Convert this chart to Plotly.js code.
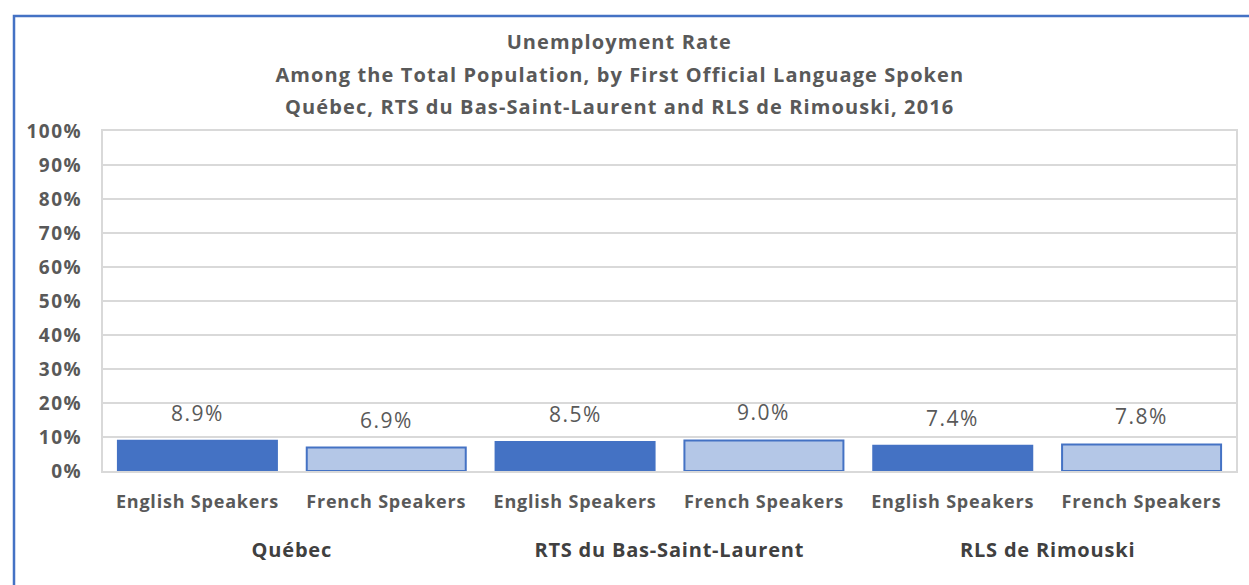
<!DOCTYPE html>
<html>
<head>
<meta charset="utf-8">
<script src="https://cdn.plot.ly/plotly-3.0.1.min.js"></script>
<style>
html,body{margin:0;padding:0;background:#fff;}
#chart{width:1249px;height:585px;}
#chart .xtick text{letter-spacing:0.8px;}
#chart .ytick text{letter-spacing:1.5px;}
#chart g.annotation[data-index="0"] text,
#chart g.annotation[data-index="1"] text,
#chart g.annotation[data-index="2"] text,
#chart g.annotation[data-index="3"] text,
#chart g.annotation[data-index="4"] text,
#chart g.annotation[data-index="5"] text{letter-spacing:1.5px;}
#chart g.annotation[data-index="6"] text,
#chart g.annotation[data-index="7"] text,
#chart g.annotation[data-index="8"] text{letter-spacing:0.8px;}
#chart g.annotation[data-index="9"] text,
#chart g.annotation[data-index="10"] text,
#chart g.annotation[data-index="11"] text{letter-spacing:1.1px;}
</style>
</head>
<body>
<div id="chart"></div>
<script>
const titleLines = ["Unemployment Rate", "Among the Total Population, by First Official Language Spoken", "Québec, RTS du Bas-Saint-Laurent and RLS de Rimouski, 2016"];
const groups = ["Québec", "Québec", "RTS du Bas-Saint-Laurent", "RTS du Bas-Saint-Laurent", "RLS de Rimouski", "RLS de Rimouski"];
const subgroups = ["English Speakers", "French Speakers", "English Speakers", "French Speakers", "English Speakers", "French Speakers"];
const values = [0.089, 0.069, 0.085, 0.090, 0.074, 0.078];
const groupNames = ["Québec", "RTS du Bas-Saint-Laurent", "RLS de Rimouski"];

const FONT = "'Open Sans', 'Noto Sans', sans-serif";
const GRAY = "#595959";
const fillColors = {"English Speakers": "#4472C4", "French Speakers": "#B4C7E7"};
const lineColors = {"English Speakers": "#4472C4", "French Speakers": "#4472C4"};

const ids = groups.map((g, i) => g + " | " + subgroups[i]);

const trace = {
  type: "bar",
  x: ids,
  y: values,
  marker: {
    color: subgroups.map(s => fillColors[s]),
    line: {color: subgroups.map(s => lineColors[s]), width: 2}
  },
  hoverinfo: "x+y",
  showlegend: false
};

const annotations = [];
// value labels (indices 0-5)
values.forEach((v, i) => {
  annotations.push({
    x: ids[i], y: v, xref: "x", yref: "y",
    text: (v * 100).toFixed(1) + "%",
    showarrow: false, yanchor: "middle", yshift: 28,
    font: {family: FONT, size: 21, color: GRAY}
  });
});
// group labels (indices 6-8)
groupNames.forEach(g => {
  const idx = groups.map((x, i) => x === g ? i : -1).filter(i => i >= 0);
  const mid = (idx[0] + idx[idx.length - 1]) / 2;
  annotations.push({
    x: mid, y: -0.232, xref: "x", yref: "paper",
    text: "<b>" + g + "</b>",
    showarrow: false, yanchor: "middle",
    font: {family: FONT, size: 20, color: "#404040"}
  });
});
// title lines (indices 9-11)
const titleY = [1.2618, 1.1676, 1.0735];
titleLines.forEach((t, i) => {
  annotations.push({
    x: 0.4563, y: titleY[i], xref: "paper", yref: "paper",
    text: "<b>" + t + "</b>",
    showarrow: false, yanchor: "middle", xanchor: "center",
    font: {family: FONT, size: 20, color: GRAY}
  });
});

const layout = {
  width: 1249, height: 585,
  margin: {l: 103, r: 13, t: 131, b: 114},
  paper_bgcolor: "#fff", plot_bgcolor: "#fff",
  bargap: 0.158,
  font: {family: FONT, color: GRAY},
  xaxis: {
    type: "category",
    tickvals: ids, ticktext: subgroups,
    tickfont: {family: FONT, size: 18, color: GRAY, weight: "bold"},
    showline: true, mirror: true, linecolor: "#d9d9d9", linewidth: 2,
    showgrid: false, ticks: "", ticklabelstandoff: 13,
    fixedrange: true
  },
  yaxis: {
    range: [0, 1], dtick: 0.1, tickformat: ".0%",
    tickfont: {family: FONT, size: 19, color: GRAY, weight: "bold"},
    showgrid: true, gridcolor: "#d9d9d9", gridwidth: 2,
    showline: true, mirror: true, linecolor: "#d9d9d9", linewidth: 2,
    zeroline: false, ticks: "", ticklabelstandoff: 15,
    fixedrange: true
  },
  annotations: annotations,
  shapes: [{
    type: "rect", xref: "paper", yref: "paper",
    x0: (14 - 103) / 1133, x1: 1.3, y0: -0.6, y1: (471 - 16) / 340,
    line: {color: "#4472C4", width: 2.5}, fillcolor: "rgba(0,0,0,0)", layer: "above"
  }]
};

Plotly.newPlot("chart", [trace], layout, {displayModeBar: false, staticPlot: true});
</script>
</body>
</html>
